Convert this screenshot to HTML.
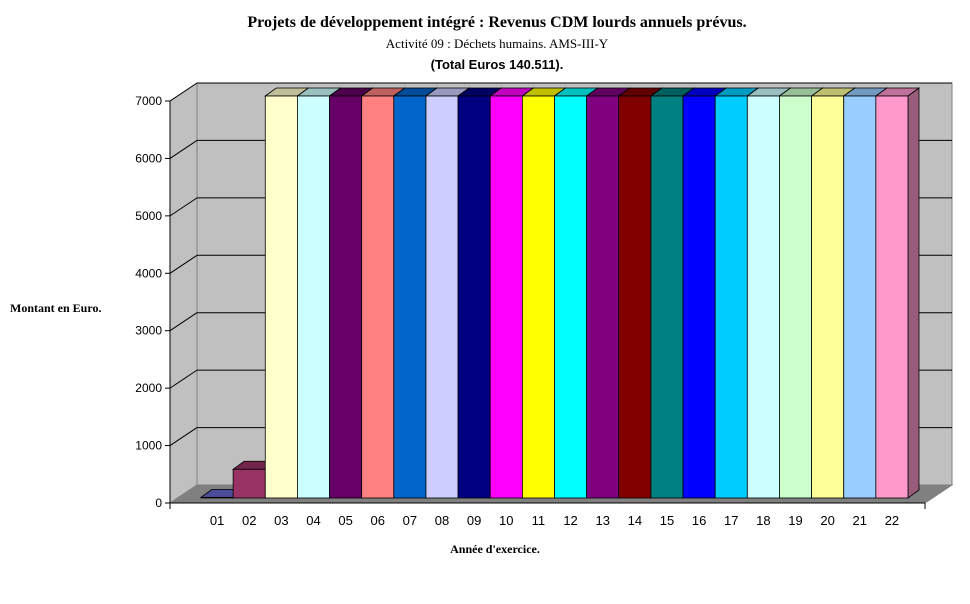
<!DOCTYPE html>
<html><head><meta charset="utf-8"><style>
body{margin:0;background:#fff;width:970px;height:604px;overflow:hidden}
svg{display:block}
</style></head><body>
<svg id="chart" width="970" height="604" xmlns="http://www.w3.org/2000/svg">
<text x="497" y="27" text-anchor="middle" font-family="Liberation Serif, serif" font-weight="bold" font-size="16">Projets de développement intégré : Revenus CDM lourds annuels prévus.</text>
<text x="497" y="48" text-anchor="middle" font-family="Liberation Serif, serif" font-size="13">Activité 09 : Déchets humains.  AMS-III-Y</text>
<text x="497" y="69" text-anchor="middle" font-family="Liberation Sans, sans-serif" font-weight="bold" font-size="13">(Total Euros 140.511).</text>
<text x="10" y="312" font-family="Liberation Serif, serif" font-weight="bold" font-size="12">Montant en Euro.</text>
<text x="495" y="553" text-anchor="middle" font-family="Liberation Serif, serif" font-weight="bold" font-size="12">Année d'exercice.</text>
<g id="plot"></g>
</svg>
<script>
const categories=["01","02","03","04","05","06","07","08","09","10","11","12","13","14","15","16","17","18","19","20","21","22"];
const values=[11,500,7000,7000,7000,7000,7000,7000,7000,7000,7000,7000,7000,7000,7000,7000,7000,7000,7000,7000,7000,7000];
const colors=["#6666cc","#993366","#ffffcc","#ccffff","#660066","#ff8080","#0066cc","#ccccff","#000080","#ff00ff","#ffff00","#00ffff","#800080","#800000","#008080","#0000ff","#00ccff","#ccffff","#ccffcc","#ffff99","#99ccff","#ff99cc"];
const yTicks=[0,1000,2000,3000,4000,5000,6000,7000];
const NS="http://www.w3.org/2000/svg";
const g=document.getElementById('plot');
const X0=170,X1=925,Y0=503,DX=27,DY=-18,YMAX=7000,H=402;
const yf=v=>Y0-v/YMAX*H;
function mk(t,a,name){const e=document.createElementNS(NS,t);for(const k in a)e.setAttribute(k,a[k]);


g.appendChild(e);return e;}
// walls
mk('polygon',{points:`${X0+DX},${yf(YMAX)+DY} ${X1+DX},${yf(YMAX)+DY} ${X1+DX},${Y0+DY} ${X0+DX},${Y0+DY}`,fill:'#c0c0c0',stroke:'#808080'},'back-wall');
mk('polygon',{points:`${X0},${yf(YMAX)} ${X0+DX},${yf(YMAX)+DY} ${X0+DX},${Y0+DY} ${X0},${Y0}`,fill:'#c0c0c0',stroke:'#808080'},'side-wall');
mk('polygon',{points:`${X0},${Y0} ${X0+DX},${Y0+DY} ${X1+DX},${Y0+DY} ${X1},${Y0}`,fill:'#808080',stroke:'#808080'},'floor');
yTicks.forEach(v=>{const y=yf(v);
 if(v>0){mk('line',{x1:X0,y1:y,x2:X0+DX,y2:y+DY,stroke:'#000','stroke-width':1},'gridline-side');
 mk('line',{x1:X0+DX,y1:y+DY,x2:X1+DX,y2:y+DY,stroke:'#000','stroke-width':1},'gridline');}
 mk('line',{x1:X0-5,y1:y,x2:X0,y2:y,stroke:'#000'},'y-tick');
 const t=mk('text',{x:X0-8,y:y+4,'text-anchor':'end','font-family':'Liberation Sans, sans-serif','font-size':12},'y-tick-label');t.textContent=v;});
mk('line',{x1:X0,y1:yf(YMAX),x2:X0,y2:Y0,stroke:'#000'},'y-axis');
mk('line',{x1:X0,y1:Y0,x2:X1,y2:Y0,stroke:'#000'},'x-axis');
mk('line',{x1:X1,y1:Y0,x2:X1,y2:Y0+6,stroke:'#000'},'x-tick');
mk('line',{x1:X0,y1:Y0,x2:X0,y2:Y0+6,stroke:'#000'},'x-tick');
// bars
const BX=201,BB=498,bw=(908-201)/categories.length,bdx=11,bdy=-8;
categories.forEach((c,i)=>{const x=BX+i*bw,yt=BB-values[i]/YMAX*H,col=colors[i];
 mk('polygon',{points:`${x+bw},${yt} ${x+bw+bdx},${yt+bdy} ${x+bw+bdx},${BB+bdy} ${x+bw},${BB}`,fill:col,stroke:'#000','stroke-width':0.8},'bar-side-'+c);
 mk('polygon',{points:`${x+bw},${yt} ${x+bw+bdx},${yt+bdy} ${x+bw+bdx},${BB+bdy} ${x+bw},${BB}`,fill:'#000','fill-opacity':0.4,stroke:'none'},'bar-side-shade-'+c);
 mk('polygon',{points:`${x},${yt} ${x+bdx},${yt+bdy} ${x+bw+bdx},${yt+bdy} ${x+bw},${yt}`,fill:col,stroke:'#000','stroke-width':0.8},'bar-top-'+c);
 mk('polygon',{points:`${x},${yt} ${x+bdx},${yt+bdy} ${x+bw+bdx},${yt+bdy} ${x+bw},${yt}`,fill:'#000','fill-opacity':0.25,stroke:'none'},'bar-top-shade-'+c);
 mk('rect',{x:x,y:yt,width:bw,height:BB-yt,fill:col,stroke:'#000','stroke-width':0.8},'bar-'+c);
 const t=mk('text',{x:x+bw/2,y:525,'text-anchor':'middle','font-family':'Liberation Sans, sans-serif','font-size':13},'x-tick-label');t.textContent=c;});
</script>
</body></html>
